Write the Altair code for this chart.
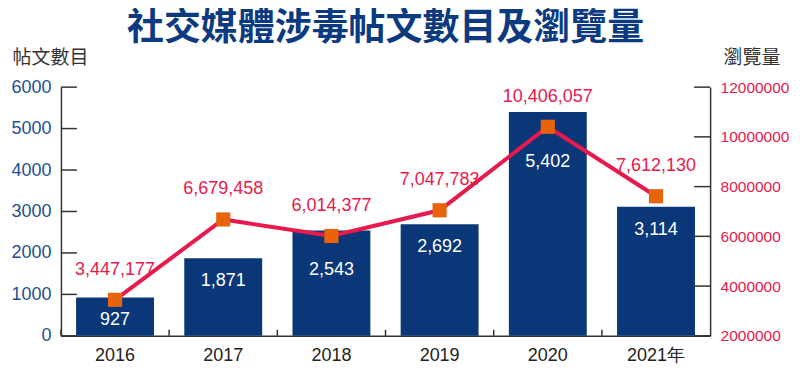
import altair as alt
import pandas as pd

years = ["2016", "2017", "2018", "2019", "2020", "2021年"]
posts = [927, 1871, 2543, 2692, 5402, 3114]
views = [3447177, 6679458, 6014377, 7047783, 10406057, 7612130]
left_ticks = [0, 1000, 2000, 3000, 4000, 5000, 6000]
right_ticks = [2000000, 4000000, 6000000, 8000000, 10000000, 12000000]

df = pd.DataFrame({
    "year": years,
    "posts": posts,
    "views": views,
    "posts_label": [f"{v:,}" for v in posts],
    "views_label": [f"{v:,}" for v in views],
})
lt = pd.DataFrame({"posts": left_ticks})
rt = pd.DataFrame({"views": right_ticks})

NAVY = "#0a3778"
RED = "#e8194c"
ORANGE = "#e8640c"
BLUE = "#1d4f91"
DARK = "#333333"
FONT = "Liberation Sans"
CJK = "Noto Sans CJK TC"

W, H = 650, 249

x_axis = alt.Axis(title=None, labelFont=FONT, labelFontSize=18, labelColor="#222222",
                  labelPadding=11, ticks=False, domain=True, domainColor=DARK,
                  domainWidth=1.5, labelAngle=0)
x_enc = alt.X("year:N", sort=years, scale=alt.Scale(paddingInner=0, paddingOuter=0),
              axis=x_axis)

lscale = alt.Scale(domain=[0, 6000], nice=False, zero=True)
rscale = alt.Scale(domain=[2000000, 12000000], nice=False, zero=False)

l_axis = alt.Axis(values=left_ticks, format="d", title="帖文數目", titleAngle=0, titleX=-49,
                  titleY=-30, titleAlign="left", titleBaseline="middle",
                  titleFont=CJK, titleFontSize=19, titleFontWeight="normal",
                  titleColor=DARK, labelFont=FONT, labelFontSize=18,
                  labelColor=BLUE, labelPadding=10, ticks=False, grid=False,
                  domainColor=DARK, domainWidth=1.5)
r_axis = alt.Axis(orient="right", values=right_ticks, format="d", title="瀏覽量",
                  titleAngle=0, titleX=13, titleY=-30, titleAlign="left",
                  titleBaseline="middle", titleFont=CJK, titleFontSize=19,
                  titleFontWeight="normal", titleColor=DARK, labelFont=FONT,
                  labelFontSize=15.5, labelColor=RED, labelPadding=10,
                  ticks=False, grid=False, domainColor=DARK, domainWidth=1.5)

ly = alt.Y("posts:Q", scale=lscale, axis=l_axis)
ry = alt.Y("views:Q", scale=rscale, axis=r_axis)

base = alt.Chart(df)

bars = base.mark_bar(color=NAVY, width=alt.RelativeBandSize(0.72)).encode(x=x_enc, y=ly)

def bar_text(dy, cond):
    return base.transform_filter(cond).mark_text(
        dy=dy, baseline="middle", color="white", font=FONT, fontSize=18
    ).encode(x=x_enc, y=ly, text="posts_label:N")

bt1 = bar_text(23, "datum.year != '2018' && datum.year != '2020'")
bt2 = bar_text(40, "datum.year == '2018'")
bt3 = bar_text(50, "datum.year == '2020'")

left_tick_rules = alt.Chart(lt).mark_rule(color=DARK, strokeWidth=1.5).encode(
    y=ly, x=alt.value(0), x2=alt.value(16)
)

bottom_ticks = base.mark_rule(color=DARK, strokeWidth=1.5).encode(
    x=alt.X("year:N", sort=years, bandPosition=0, axis=x_axis),
    y=alt.value(H), y2=alt.value(H - 6)
)

left = alt.layer(bars, bt1, bt2, bt3, left_tick_rules, bottom_ticks)

line = base.mark_line(color=RED, strokeWidth=4).encode(x=x_enc, y=ry)
points = base.mark_square(size=200, color=ORANGE, opacity=1).encode(x=x_enc, y=ry)
line_labels = base.mark_text(dy=-30, baseline="middle", color=RED, font=FONT,
                             fontSize=18).encode(x=x_enc, y=ry, text="views_label:N")
right_tick_rules = alt.Chart(rt).mark_rule(color=DARK, strokeWidth=1.5).encode(
    y=ry, x=alt.value(W - 16), x2=alt.value(W)
)

right = alt.layer(line, points, line_labels, right_tick_rules)

chart = alt.layer(left, right).resolve_scale(y="independent").properties(
    width=W, height=H,
    autosize=alt.AutoSizeParams(type="none"),
    padding={"left": 53, "top": 79, "right": 82, "bottom": 48},
    title=alt.TitleParams("社交媒體涉毒帖文數目及瀏覽量", font=CJK, fontSize=37,
                          fontWeight="bold", color="#0b3a80", anchor="middle",
                          frame="group", offset=0),
).configure_view(stroke=None)

chart.save("out.html", embed_options={"renderer": "svg", "actions": False})
